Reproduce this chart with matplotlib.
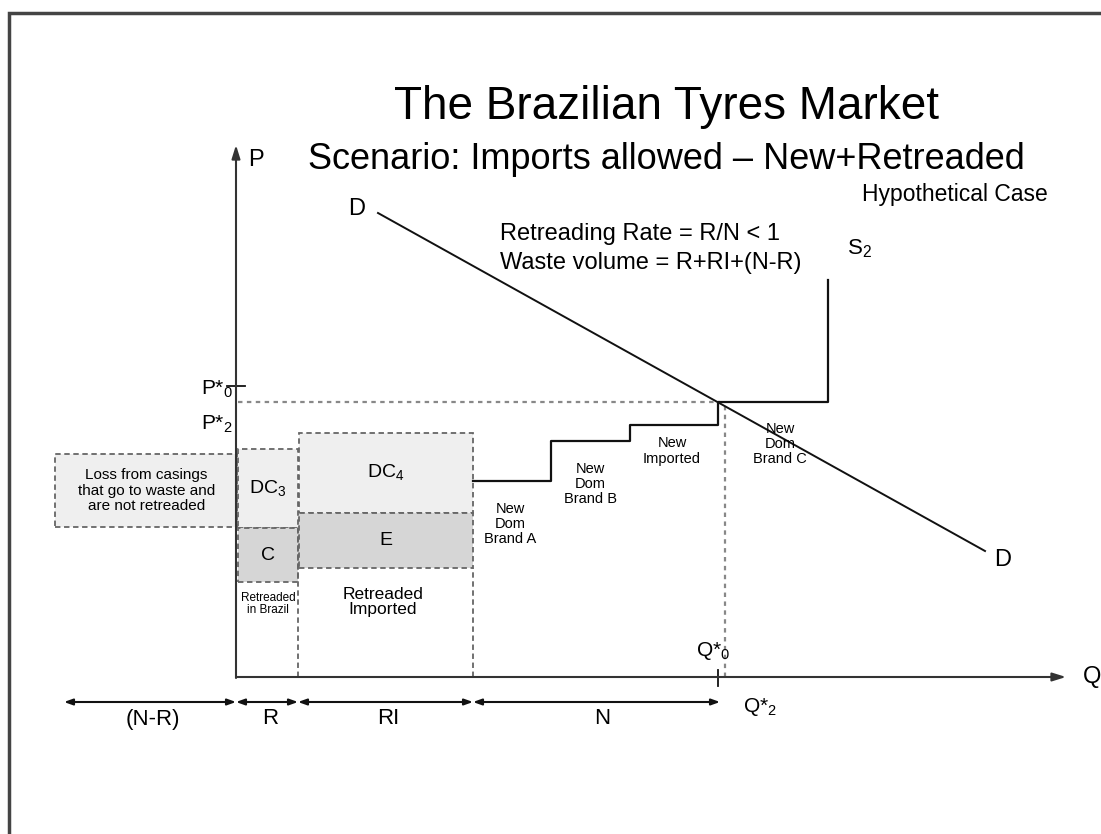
import matplotlib
matplotlib.use("Agg")
import matplotlib.pyplot as plt
from matplotlib.patches import Rectangle

plt.rcParams['font.family'] = ['Liberation Sans', 'DejaVu Sans']
plt.rcParams['mathtext.fontset'] = 'custom'
plt.rcParams['mathtext.rm'] = 'Liberation Sans'

# ---------------- schematic data (Q to the right of origin, P above origin) -------------
# quantity segments on the Q axis
seg_bounds = [-172, 0, 62, 237, 484]
seg_labels = ['(N-R)', 'R', 'RI', 'N']
seg_label_q = [-83, 34, 152, 366]

# equilibrium
P0 = 275          # P*0 price level (dotted line)
P0_tick = 291     # tick on the P axis
Q0 = 482          # Q*0 quantity

# supply curve S2 (steps: new dom A, new dom B, new imported, new dom C, then vertical)
supply_q = [237, 315, 315, 394, 394, 482, 482, 592, 592]
supply_p = [196, 196, 236, 236, 252, 252, 275, 275, 397]

# demand curve D
demand_q = [142, 749]
demand_p = [464, 126]

# rectangles: loss, DC3, C, DC4, E
box_q0 = [-181, 2, 2, 63, 63]
box_q1 = [2, 62, 62, 237, 237]
box_p0 = [150, 149, 95, 164, 109]
box_p1 = [223, 228, 149, 244, 164]
box_shade = ['#efefef', '#efefef', '#d6d6d6', '#efefef', '#d6d6d6']
box_labels = ['Loss from casings\nthat go to waste and\nare not retreaded',
              r'DC$_\mathregular{3}$', 'C', r'DC$_\mathregular{4}$', 'E']
box_label_size = [11, 14, 14, 14, 14]

# supply step labels
step_texts = ['New\nDom\nBrand A', 'New\nDom\nBrand B', 'New\nImported', 'New\nDom\nBrand C']
step_text_q = [274, 354, 436, 544]
step_text_p = [153, 193, 226, 233]

# ---------------- figure ----------------
fig = plt.figure(figsize=(11.01, 8.34), dpi=100)
ax = fig.add_axes([0, 0, 1, 1])
ax.set_xlim(-236, 865)
ax.set_ylim(-157, 677)
ax.axis('off')

# outer frame (left and top)
ax.plot([-227, -227, 865], [-157, 664, 664], color='#444444', lw=2.5,
        solid_joinstyle='miter', zorder=1)

# boxes
dash = (0, (3, 2))
for q0, q1, p0, p1, fc, lab, fs in zip(box_q0, box_q1, box_p0, box_p1,
                                        box_shade, box_labels, box_label_size):
    ax.add_patch(Rectangle((q0, p0), q1 - q0, p1 - p0, facecolor=fc,
                           edgecolor='#666666', lw=1.3, linestyle=dash, zorder=2))
    ax.text((q0 + q1) / 2, (p0 + p1) / 2, lab, ha='center', va='center',
            fontsize=fs, linespacing=1.15, zorder=5)

# dashed vertical separators down to the axis
ax.plot([62, 62], [0, 149], color='#666666', lw=1.3, linestyle=dash, zorder=2)
ax.plot([237, 237], [0, 109], color='#666666', lw=1.3, linestyle=dash, zorder=2)

# dotted equilibrium lines
ax.plot([2, Q0 + 2], [P0, P0], color='#888888', lw=1.6, linestyle=(0, (2, 2)), zorder=2)
ax.plot([489, 489], [0, P0], color='#888888', lw=1.6, linestyle=(0, (2, 2)), zorder=2)

# axes
ax.annotate('', xy=(830, 0), xytext=(0, 0),
            arrowprops=dict(arrowstyle='-|>,head_length=0.8,head_width=0.25',
                            color='#333333', lw=1.5, shrinkA=0, shrinkB=0), zorder=4)
ax.annotate('', xy=(0, 532), xytext=(0, -1),
            arrowprops=dict(arrowstyle='-|>,head_length=0.8,head_width=0.25',
                            color='#333333', lw=1.5, shrinkA=0, shrinkB=0), zorder=4)
ax.text(20, 517, 'P', fontsize=17, ha='center', va='center')
ax.text(847, 0, 'Q', fontsize=17, ha='left', va='center')

# ticks
ax.plot([-9, 9], [P0_tick, P0_tick], color='#111111', lw=1.3)
ax.plot([Q0, Q0], [-9, 7], color='#111111', lw=1.3)

# supply and demand
ax.plot(supply_q, supply_p, color='#111111', lw=1.6, zorder=4)
ax.plot(demand_q, demand_p, color='#111111', lw=1.4, zorder=4)

# price / quantity labels
ax.text(-3, 288, r'P*$_\mathregular{0}$', fontsize=15, ha='right', va='center')
ax.text(-3, 253, r'P*$_\mathregular{2}$', fontsize=15, ha='right', va='center')
ax.text(460, 26, r'Q*$_\mathregular{0}$', fontsize=15, ha='left', va='center')
ax.text(507, -30, r'Q*$_\mathregular{2}$', fontsize=15, ha='left', va='center')

ax.text(121, 468, 'D', fontsize=17, ha='center', va='center')
ax.text(767, 117, 'D', fontsize=17, ha='center', va='center')
ax.text(611, 428, r'S$_\mathregular{2}$', fontsize=16, ha='left', va='center')

for lab, x, y in zip(step_texts, step_text_q, step_text_p):
    ax.text(x, y, lab, fontsize=10.5, ha='center', va='center', linespacing=1.1, zorder=5)

ax.text(32, 73, 'Retreaded\nin Brazil', fontsize=8.5, ha='center', va='center', linespacing=1.1)
ax.text(147, 75, 'Retreaded\nImported', fontsize=12.5, ha='center', va='center', linespacing=1.0)

# bottom double arrows
for a, b in zip(seg_bounds[:-1], seg_bounds[1:]):
    ax.annotate('', xy=(b, -25), xytext=(a, -25),
                arrowprops=dict(arrowstyle='<|-|>,head_length=0.5,head_width=0.18',
                                color='#111111', lw=1.5, shrinkA=0, shrinkB=0))
for lab, x in zip(seg_labels, seg_label_q):
    ax.text(x, -42, lab, fontsize=16, ha='center', va='center')

# titles and notes
ax.text(430, 558, 'The Brazilian Tyres Market', fontsize=33, ha='center', va='baseline')
ax.text(430, 508, 'Scenario: Imports allowed \u2013 New+Retreaded', fontsize=26,
        ha='center', va='baseline')
ax.text(626, 483, 'Hypothetical Case', fontsize=16.5, ha='left', va='center')
ax.text(264, 443, 'Retreading Rate = R/N < 1', fontsize=17, ha='left', va='center')
ax.text(264, 414, 'Waste volume = R+RI+(N-R)', fontsize=17, ha='left', va='center')

fig.savefig('out.png', dpi=100)
